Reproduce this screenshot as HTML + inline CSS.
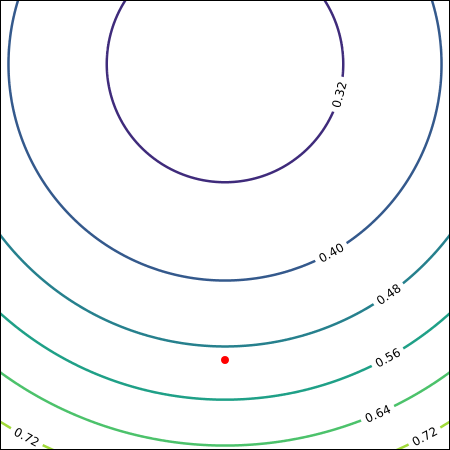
<!DOCTYPE html>
<html><head><meta charset="utf-8"><style>
html,body{margin:0;padding:0;background:#fff;width:450px;height:450px;overflow:hidden}
svg{display:block;overflow:hidden}
text{font-family:"DejaVu Sans","Liberation Sans",sans-serif;font-size:12px;fill:#000}
</style></head><body>
<svg id="chart" width="450" height="450" viewBox="0 0 450 450"></svg>
<script>
const levels = [0.32, 0.40, 0.48, 0.56, 0.64, 0.72];
const levelColors = ['#3f2b7b', '#34598c', '#26808d', '#1fa087', '#4cc26b', '#a0da39'];
const labelAngles = [[15], [60.6], [54.6], [61], [66.4], [61.8, 118]];
const minValue = 0.286;
const valuePerR2 = 0.08 / 32900;
const centerX = 225, centerY = 64;
const marker = [225, 360];

const NS = 'http://www.w3.org/2000/svg';
const svg = document.getElementById('chart');
function el(tag, attrs, parent) {
  const e = document.createElementNS(NS, tag);
  for (const k in attrs) e.setAttribute(k, attrs[k]);
  (parent || svg).appendChild(e);
  return e;
}
function radius(v) { return Math.sqrt((v - minValue) / valuePerR2); }
function inside(x, y) { return x >= 0 && x <= 450 && y >= 0 && y <= 450; }

const g = el('g', {});



levels.forEach((v, i) => {
  const r = radius(v);
  const runs = [];
  let cur = null;
  // start at an angle that's outside if possible (top, -90deg)
  for (let k = 0; k <= 3600; k++) {
    const a = (-90 + k * 0.1) * Math.PI / 180;
    const x = centerX + r * Math.cos(a), y = centerY + r * Math.sin(a);
    if (inside(x, y)) {
      if (!cur) { cur = []; runs.push(cur); }
      cur.push(x.toFixed(2) + ',' + y.toFixed(2));
    } else cur = null;
  }
  let d = runs.map(run => 'M' + run.join('L')).join(' ');
  const p = el('path', {d: d, fill: 'none', stroke: levelColors[i], 'stroke-width': 2.5}, g);
  
  
});

levels.forEach((v, i) => {
  labelAngles[i].forEach(a => {
    const r = radius(v);
    const rad = a * Math.PI / 180;
    const x = centerX + r * Math.cos(rad), y = centerY + r * Math.sin(rad);
    let rot = a - 90;
    if (rot < -90) rot += 180;
    if (rot > 90) rot -= 180;
    const lg = el('g', {transform: `translate(${x},${y}) rotate(${rot})`}, g);
    
    
    el('rect', {x: -18, y: -6, width: 36, height: 12, fill: '#fff'}, lg);
    const t = el('text', {x: 0, y: 4.3, 'text-anchor': 'middle'}, lg);
    t.textContent = v.toFixed(2);
  });
});

const dot = el('circle', {cx: marker[0], cy: marker[1], r: 4, fill: '#ff0000'});



const frame = el('rect', {x: 0.5, y: 0.5, width: 449, height: 449, fill: 'none', stroke: '#000', 'stroke-width': 1});


</script>
</body></html>
